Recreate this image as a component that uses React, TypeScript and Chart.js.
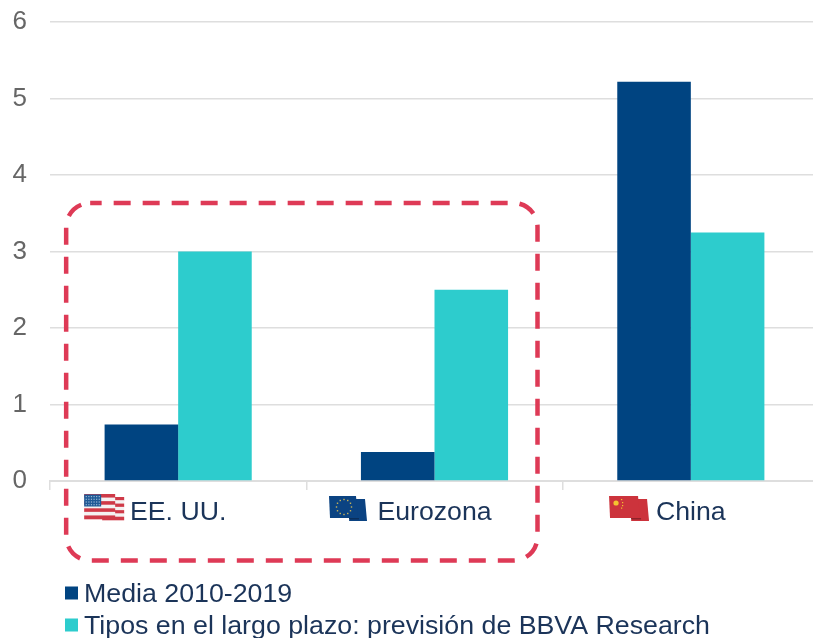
import React, { useEffect, useRef } from "react";
import { Chart, registerables } from "chart.js";

Chart.register(...registerables);

const categories = ["EE. UU.", "Eurozona", "China"];
const mediaLabel = "Media 2010-2019";
const mediaValues = [0.74, 0.38, 5.22];
const previsionLabel = "Tipos en el largo plazo: previsión de BBVA Research";
const previsionValues = [3.0, 2.5, 3.25];
const yTicks = [0, 1, 2, 3, 4, 5, 6];

const NAVY = "#004481";
const AQUA = "#2DCCCD";
const TEXT = "#1B3459";
const GRID = "#DEDEDE";
const RED = "#DE3A56";
const FONT = '"Liberation Sans", Arial, sans-serif';

function usFlag(ctx: CanvasRenderingContext2D, x: number, y: number) {
  const stripes = (sx: number, sy: number, w: number, h: number, n: number) => {
    for (let i = 0; i < n; i++) {
      ctx.fillStyle = i % 2 === 0 ? "#CF3A48" : "#F4F2F2";
      ctx.fillRect(sx, sy + (i * h) / n, w, h / n + 0.3);
    }
  };
  stripes(x + 18, y + 3, 22, 23, 7);
  stripes(x, y, 31, 25, 7);
  ctx.fillStyle = "#1F5A96";
  ctx.fillRect(x, y + 0.5, 17, 12);
  ctx.fillStyle = "#9DB8D6";
  for (let r = 0; r < 4; r++) {
    for (let c = 0; c < 6; c++) {
      ctx.fillRect(x + 1.5 + c * 2.6, y + 2 + r * 2.7, 1.2, 1.2);
    }
  }
}

function backedFlag(ctx: CanvasRenderingContext2D, x: number, y: number, w: number, h: number, color: string, dark: string) {
  ctx.fillStyle = color;
  ctx.beginPath();
  ctx.moveTo(x + w - 4, y + 3);
  ctx.lineTo(x + w + 7, y + 3);
  ctx.lineTo(x + w + 9, y + h + 2);
  ctx.lineTo(x + w - 9, y + h + 2);
  ctx.closePath();
  ctx.fill();
  ctx.fillStyle = dark;
  ctx.fillRect(x + w - 9, y + h - 1, 10, 1.5);
  ctx.fillStyle = color;
  ctx.beginPath();
  ctx.moveTo(x, y);
  ctx.lineTo(x + w - 2, y);
  ctx.lineTo(x + w, y + h - 1);
  ctx.lineTo(x + 1, y + h - 1);
  ctx.closePath();
  ctx.fill();
}

function euFlag(ctx: CanvasRenderingContext2D, x: number, y: number) {
  backedFlag(ctx, x, y, 29, 23, "#0B4382", "#0A2F5C");
  ctx.fillStyle = "#C9B458";
  for (let i = 0; i < 12; i++) {
    const a = (i * Math.PI) / 6;
    ctx.fillRect(x + 15 + Math.cos(a) * 7.5 - 0.7, y + 11 + Math.sin(a) * 7.5 - 0.7, 1.4, 1.4);
  }
}

function cnFlag(ctx: CanvasRenderingContext2D, x: number, y: number) {
  backedFlag(ctx, x, y, 31, 23, "#CC333C", "#8E2229");
  ctx.fillStyle = "#F4C430";
  ctx.beginPath();
  ctx.arc(x + 7, y + 7, 2.6, 0, Math.PI * 2);
  ctx.fill();
  [[12, 3], [13, 6], [13, 9], [12, 11.5]].forEach(([dx, dy]) => ctx.fillRect(x + dx, y + dy, 1.2, 1.2));
}

const overlay = {
  id: "overlay",
  afterDraw(chart: any) {
    const { ctx, scales } = chart;
    const xs = scales.x;
    const ys = scales.y;
    ctx.save();

    // flags, placed relative to each category
    const flagY = ys.bottom + 13;
    usFlag(ctx, xs.getPixelForTick(0) - 94, flagY);
    euFlag(ctx, xs.getPixelForTick(1) - 105.5, flagY + 2);
    cnFlag(ctx, xs.getPixelForTick(2) - 81.8, flagY + 2);

    // dashed highlight round the first two categories
    const left = xs.getPixelForTick(0) - 112;
    const right = xs.getPixelForTick(1) + 103;
    const top = ys.getPixelForValue(3.634);
    const bottom = ys.getPixelForValue(-1.04);
    ctx.strokeStyle = RED;
    ctx.lineWidth = 4.5;
    ctx.setLineDash([17, 12]);
    ctx.lineDashOffset = -23.5;
    ctx.beginPath();
    ctx.roundRect(left, top, right - left, bottom - top, 24);
    ctx.stroke();
    ctx.setLineDash([]);

    // legend, stacked and left aligned under the axis
    ctx.font = `25px ${FONT}`;
    ctx.textBaseline = "middle";
    ctx.textAlign = "left";
    chart.data.datasets.forEach((ds: any, i: number) => {
      const cy = 593 + i * 32;
      ctx.fillStyle = ds.backgroundColor;
      ctx.fillRect(65, cy - 6.5, 13, 13);
      ctx.fillStyle = TEXT;
      ctx.save();
      ctx.translate(84, cy + 2);
      ctx.scale(1.07, 1);
      ctx.fillText(ds.label, 0, 0);
      ctx.restore();
    });
    ctx.restore();
  },
};

export default function App() {
  const ref = useRef<HTMLCanvasElement>(null);

  useEffect(() => {
    document.body.style.margin = "0";
    const chart = new Chart(ref.current as HTMLCanvasElement, {
      type: "bar",
      data: {
        labels: categories,
        datasets: [
          { label: mediaLabel, data: mediaValues, backgroundColor: NAVY, categoryPercentage: 0.574, barPercentage: 1 },
          { label: previsionLabel, data: previsionValues, backgroundColor: AQUA, categoryPercentage: 0.574, barPercentage: 1 },
        ],
      },
      options: {
        animation: false,
        responsive: false,
        layout: { padding: { top: 22, right: 13, left: 0, bottom: 0 } },
        plugins: { legend: { display: false }, tooltip: { enabled: false }, title: { display: false } },
        scales: {
          x: {
            afterFit(scale: any) {
              scale.height = 157;
              scale.paddingLeft = 0;
              scale.paddingRight = 0;
            },
            grid: { display: true, drawOnChartArea: false, color: GRID, tickLength: 9, tickColor: GRID, lineWidth: 1.5 },
            border: { color: GRID, width: 2 },
            ticks: {
              color: TEXT,
              padding: 7,
              font: { family: FONT, size: 26.7 },
              maxRotation: 0,
            },
          },
          y: {
            min: 0,
            max: 6,
            afterFit(scale: any) {
              scale.width = 50;
              scale.paddingTop = 0;
              scale.paddingBottom = 0;
            },
            afterBuildTicks(scale: any) {
              scale.ticks = yTicks.map((value) => ({ value }));
            },
            grid: { color: GRID, lineWidth: 1.5, drawTicks: false },
            border: { display: false },
            ticks: {
              color: "#666666",
              padding: 23,
              font: { family: FONT, size: 26 },
            },
          },
        },
      },
      plugins: [overlay],
    } as any);
    return () => chart.destroy();
  }, []);

  return (
    <div style={{ width: 813, height: 638, overflow: "hidden", background: "#fff" }}>
      <canvas ref={ref} width={832} height={638} style={{ display: "block" }} />
    </div>
  );
}
